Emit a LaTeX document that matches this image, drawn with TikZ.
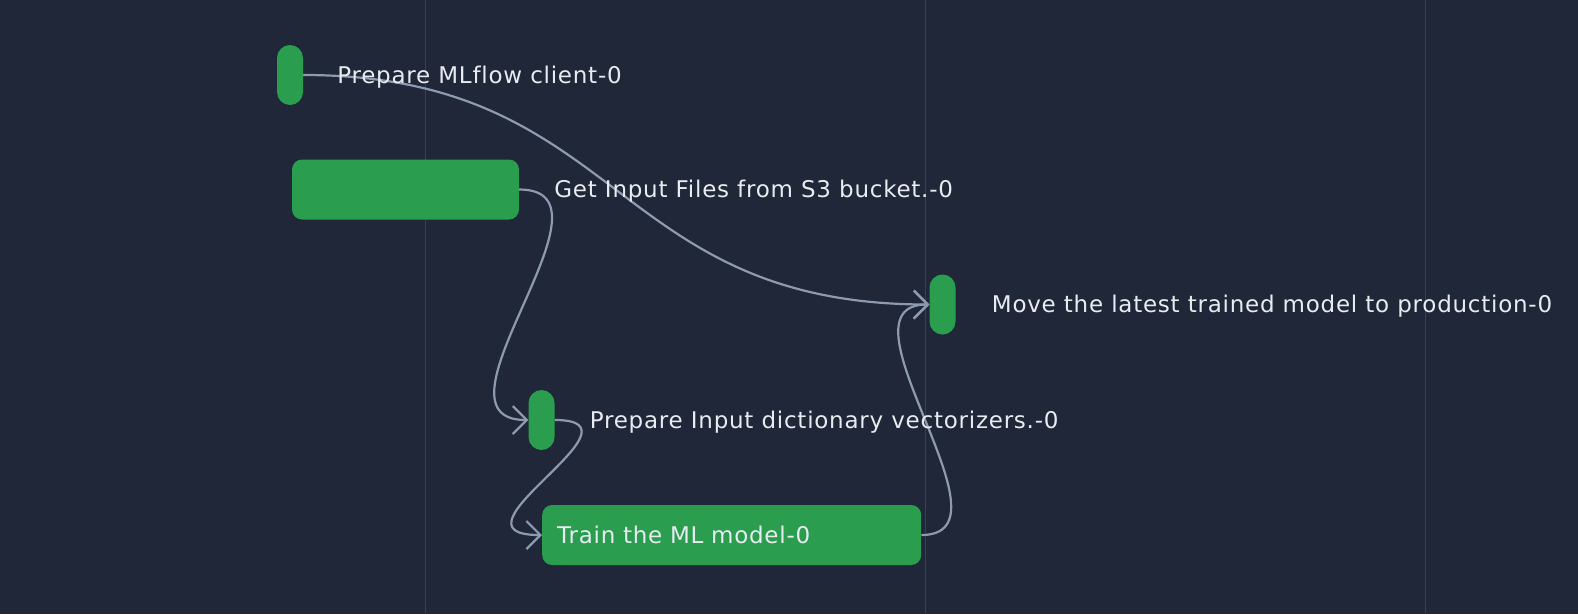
\documentclass[tikz,border=0pt]{standalone}
\usepackage{fontspec}
\setmainfont{DejaVu Sans}[LetterSpace=3.3, Ligatures=NoCommon]
\usetikzlibrary{arrows.meta,positioning}
\definecolor{canvas}{HTML}{1F2738}
\definecolor{gridcol}{HTML}{354155}
\definecolor{taskgreen}{HTML}{2A9D4F}
\definecolor{depcol}{HTML}{8E9AAF}
\definecolor{lblcol}{HTML}{E8EBF0}
\pgfdeclarelayer{canvaslayer}
\pgfdeclarelayer{edges}
\pgfsetlayers{canvaslayer,edges,main}
\tikzset{
  bar/.style={fill=taskgreen, rounded corners=13pt, minimum width=26pt, minimum height=60pt, inner sep=0pt},
  task/.style={fill=taskgreen, rounded corners=10pt, minimum height=60pt, inner sep=0pt},
  lbl/.style={text=lblcol, inner sep=0pt, anchor=west, yshift=-2pt, font=\fontsize{23}{27}\selectfont},
  dep/.style={draw=depcol, line width=2.2pt, -{Straight Barb[length=14pt,width=28pt]}},
  gridline/.style={draw=gridcol, line width=1pt}
}
\begin{document}
\begin{tikzpicture}[x=1pt,y=-1pt]
\begin{pgfonlayer}{canvaslayer}
\useasboundingbox[fill=canvas] (0,0) rectangle (1578,614);
\foreach \gx in {425,925,1425}
  \draw[gridline] (\gx,0) -- (\gx,614);
\end{pgfonlayer}

% tasks
\node[bar] (mlflow) at (290,75) {};
\node[task, minimum width=227pt] (getinput) at (405.5,189.5) {};
\node[bar] (move) at (942.5,304.5) {};
\node[bar] (vectorizers) at (541.5,420) {};
\node[task, anchor=west, minimum width=379pt, text width=349pt, inner xsep=15pt, align=left,
  text=lblcol, font=\fontsize{23}{27}\selectfont] (train) at (542,535) {Train the ML model-0};

% labels
\node[lbl, right=34pt of mlflow] (mlflowlbl) {Prepare MLflow client-0};
\node[lbl, right=35pt of getinput] (getinputlbl) {Get Input Files from S3 bucket.-0};
\node[lbl, right=36pt of move] (movelbl) {Move the latest trained model to production-0};
\node[lbl, right=35pt of vectorizers] (vectorizerslbl) {Prepare Input dictionary vectorizers.-0};

% dependencies
\begin{pgfonlayer}{edges}
\draw[dep] (mlflow.east) .. controls +(320,0) and +(-320,0) .. (move.west);
\draw[dep] (getinput.east) .. controls +(110,0) and +(-110,0) .. (vectorizers.west);
\draw[dep] (vectorizers.east) .. controls +(100,0) and +(-105,0) .. (train.west);
\draw[dep] (train.east) .. controls +(100,0) and +(-100,0) .. (move.west);
\end{pgfonlayer}
\end{tikzpicture}
\end{document}
